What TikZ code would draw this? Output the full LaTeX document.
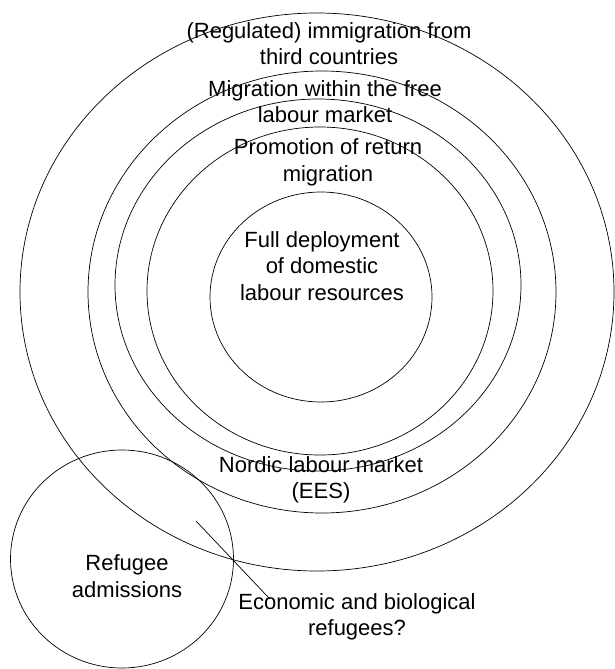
\documentclass[tikz,border=0pt]{standalone}
\usepackage{fontspec}
\setmainfont{Liberation Sans}
\usepackage{tikz}
\usetikzlibrary{shapes.geometric, positioning}

\begin{document}
\begin{tikzpicture}[x=1pt, y=-1pt, line width=0.7pt,
                    ring/.style = {draw, ellipse, inner sep=0pt},
                    label/.style = {align=center, inner sep=0pt,
                        font=\fontsize{22}{26.5}\selectfont}]
        \useasboundingbox (0,0) rectangle (615,669);

        % concentric rings, innermost first
        \node[ring, minimum width=222pt, minimum height=210pt] (inner) at (321,297) {};
        \node[ring, minimum width=346pt, minimum height=328pt] (promo) at (320,291) {};
        \node[ring, minimum width=406pt, minimum height=372pt] (nordic) at (318,285) {};
        \node[ring, minimum width=468pt, minimum height=442pt] (free) at (322,292) {};
        \node[ring, minimum width=594pt, minimum height=558pt] (third) at (317,292) {};

        \node[ring, minimum width=223pt, minimum height=218pt] (refugee) at (122,559) {};

        % texts
        \node[label] (reglabel) at (329,43.5) {(Regulated) immigration from\\third countries};
        \node[label] (freelabel) at (325,101.5) {Migration within the free\\labour market};
        \node[label] (promolabel) at (328,162.5) {Promotion of return\\migration};
        \node[label] (innerlabel) at (322,266) {Full deployment\\of domestic\\labour resources};
        \node[label] (nordiclabel) at (321,480) {Nordic labour market\\(EES)};
        \node[label] (reflabel) at (127,576) {Refugee\\admissions};
        \node[label] (econlabel) at (357,617) {Economic and biological\\refugees?};

        \coordinate (overlap) at (196,521);
        \draw (overlap) -- ([xshift=32pt, yshift=-6pt]econlabel.north west);
    \end{tikzpicture}
\end{document}
